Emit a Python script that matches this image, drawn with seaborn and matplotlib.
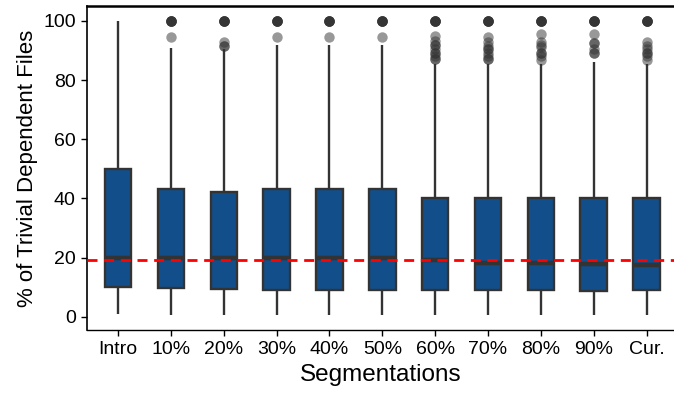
import matplotlib
matplotlib.use('Agg')
import matplotlib.pyplot as plt
import pandas as pd
import seaborn as sns

segments = ['Intro', '10%', '20%', '30%', '40%', '50%', '60%', '70%', '80%', '90%', 'Cur.']
q1s = [10.0, 9.8, 9.3, 8.9, 8.9, 8.9, 9.0, 9.0, 9.0, 8.7, 9.0]
medians = [20.0, 20.0, 20.0, 20.0, 20.0, 20.0, 19.1, 18.2, 18.1, 17.9, 17.6]
q3s = [50.0, 43.0, 42.0, 43.0, 43.0, 43.0, 40.0, 40.0, 40.0, 40.0, 40.0]
whisker_lo = [1.0, 0.5, 0.5, 0.5, 0.5, 0.5, 0.5, 0.5, 0.5, 0.5, 0.5]
whisker_hi = [100.0, 90.7, 90.5, 92.0, 92.0, 92.0, 85.5, 85.5, 85.5, 86.0, 85.5]
outliers = [
    [],
    [94.4] + [100.0] * 6,
    [92.7, 91.4, 91.4] + [100.0] * 6,
    [94.5] + [100.0] * 6,
    [94.5] + [100.0] * 6,
    [94.5] + [100.0] * 6,
    [95.0, 93.2, 92.0, 92.0, 90.5, 89.2, 89.2, 88.0, 87.0, 87.0] + [100.0] * 6,
    [94.5, 92.7, 91.5, 90.5, 90.5, 89.0, 88.0, 87.2, 87.2] + [100.0] * 6,
    [95.5, 92.7, 92.0, 91.1, 89.0, 89.0, 88.0, 86.9] + [100.0] * 6,
    [95.5, 92.4, 92.4, 90.5, 89.3, 89.3] + [100.0] * 6,
    [92.7, 91.5, 90.5, 89.0, 89.0, 88.0, 86.9] + [100.0] * 6,
]
overall_median = 19.3

# rebuild per-segment samples that reproduce the read-off box statistics
rows = []
m = 20
for i, seg in enumerate(segments):
    k = len(outliers[i])
    vals = ([whisker_lo[i]] * (k + 1) + [q1s[i]] * m + [medians[i]] * m
            + [q3s[i]] * m + [whisker_hi[i]] + outliers[i])
    for v in vals:
        rows.append((seg, v))
df = pd.DataFrame(rows, columns=['Segmentations', 'pct'])

sns.set_style('ticks')
plt.rcParams['font.family'] = ['Liberation Sans', 'DejaVu Sans']

fig = plt.figure(figsize=(6.74, 3.96), dpi=100)
ax = fig.add_axes([0.129, 0.1667, 0.871, 0.818])

sns.boxplot(data=df, x='Segmentations', y='pct', order=segments, color='#114E8A',
            saturation=1, width=0.5, linewidth=1.7, linecolor='#333333', showcaps=False,
            medianprops=dict(linewidth=3.2),
            flierprops=dict(marker='o', markerfacecolor='#333333', markeredgecolor='none',
                            markersize=7.5, alpha=0.5), ax=ax)

ax.axhline(overall_median, color='red', linestyle=(0, (3.6, 2.4)), linewidth=2, zorder=5)

ax.set_xlim(-0.59, 10.52)
ax.set_ylim(-4.5, 105)
ax.set_yticks([0, 20, 40, 60, 80, 100])
ax.set_xlabel('Segmentations', fontsize=17.5, color='black')
ax.set_ylabel('% of Trivial Dependent Files', fontsize=16, color='black')
ax.tick_params(axis='both', labelsize=14, colors='black', length=4.5, width=1)

ax.spines['right'].set_visible(False)
ax.spines['top'].set_linewidth(1.8)
ax.spines['left'].set_linewidth(1.2)
ax.spines['bottom'].set_linewidth(1.0)
for s in ['top', 'left', 'bottom']:
    ax.spines[s].set_color('black')

fig.savefig('out.png', dpi=100)
